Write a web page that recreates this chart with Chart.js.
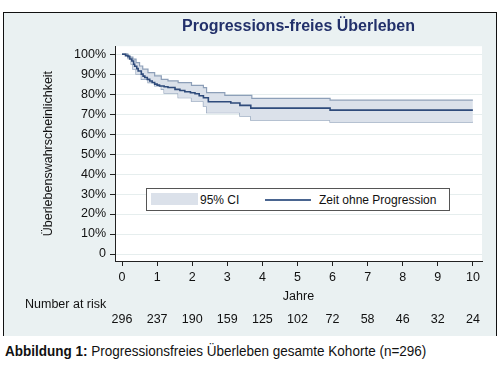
<!DOCTYPE html>
<html>
<head>
<meta charset="utf-8">
<script src="https://cdn.jsdelivr.net/npm/chart.js@4.4.1/dist/chart.umd.min.js"></script>
<style>
    html, body { margin: 0; padding: 0; background: #fff; }
    body { width: 500px; height: 371px; position: relative; overflow: hidden; font-family: "Liberation Sans", Arial, sans-serif; }
    #frame { position: absolute; left: 3px; top: 12px; width: 492px; height: 323px; background: #eaf1f2; border: 1px solid #111; border-bottom: none; }
    #chart { position: absolute; left: 0; top: 0; }
    #legend { position: absolute; left: 142px; top: 175px; width: 304px; height: 23px; box-sizing: border-box; background: #fff; border: 1px solid #555; font-size: 12px; color: #111; }
    #legend .sw { position: absolute; left: 4px; top: 4px; width: 47px; height: 12px; background: #dbe1ea; }
    #legend .t1 { position: absolute; left: 53px; top: 4px; }
    #legend .ln { position: absolute; left: 118px; top: 10px; width: 46px; height: 2px; background: #4a6590; }
    #legend .t2 { position: absolute; left: 172px; top: 4px; }
    #caption { position: absolute; left: 5px; top: 342px; font-size: 15px; color: #111; white-space: nowrap; transform: scaleX(0.9); transform-origin: left center; }
</style>
</head>
<body>
<div id="frame">
    <canvas id="chart" width="492" height="322"></canvas>
    <div id="legend">
        <div class="sw"></div><span class="t1">95% CI</span>
        <div class="ln"></div><span class="t2">Zeit ohne Progression</span>
    </div>
</div>
<div id="caption"><b>Abbildung 1:</b> Progressionsfreies Überleben gesamte Kohorte (n=296)</div>
<script>
// Kaplan-Meier Schätzer (Jahre, %)
const survYears = [0, 0.10, 0.17, 0.22, 0.28, 0.33, 0.36, 0.42, 0.46, 0.55, 0.60, 0.65, 0.72, 0.79, 0.86, 0.93, 1.00, 1.07, 1.20, 1.31, 1.51, 1.65, 1.79, 1.95, 2.08, 2.20, 2.32, 2.46, 3.10, 3.36, 3.67, 5.93, 10];
const survPct   = [100, 99.3, 98.8, 97.6, 96.6, 95.0, 94.0, 92.8, 91.6, 90.0, 89.0, 88.3, 87.4, 86.6, 85.8, 85.0, 84.5, 84.1, 83.7, 83.3, 82.4, 81.8, 81.2, 80.7, 80.2, 79.2, 78.2, 76.2, 75.6, 74.4, 73.0, 72.0, 72.0];

// 95% Konfidenzintervall
const upperYears = [0, 0.15, 0.22, 0.31, 0.40, 0.50, 0.59, 0.74, 0.93, 1.12, 1.31, 1.60, 1.98, 2.32, 2.41, 2.93, 3.70, 5.93, 10];
const upperPct   = [100, 99.3, 98.5, 97.5, 95.8, 94.1, 92.5, 90.8, 89.1, 87.4, 86.6, 85.8, 84.4, 83.3, 80.8, 79.4, 77.9, 77.0, 77.0];
const lowerYears = [0, 0.17, 0.26, 0.31, 0.40, 0.55, 0.74, 0.93, 1.12, 1.20, 1.60, 1.98, 2.32, 2.41, 3.36, 3.67, 5.93, 10];
const lowerPct   = [100, 97.8, 95.0, 92.5, 90.0, 87.4, 85.8, 84.1, 82.4, 80.5, 78.2, 76.5, 74.0, 70.7, 69.0, 67.0, 66.0, 66.0];

// Achsen und Number at risk
const yTickValues = [0, 10, 20, 30, 40, 50, 60, 70, 80, 90, 100];
const yTickLabels = ['0', '10%', '20%', '30%', '40%', '50%', '60%', '70%', '80%', '90%', '100%'];
const riskYears = [0, 1, 2, 3, 4, 5, 6, 7, 8, 9, 10];
const atRisk = [296, 237, 190, 159, 125, 102, 72, 58, 46, 32, 24];

const FONT = '"Liberation Sans", Arial, sans-serif';
const toPoints = (xs, ys) => xs.map((x, i) => ({ x, y: ys[i] }));

// weisser Plotbereich
const plotBackground = {
    id: 'plotBackground',
    beforeDraw(chart) {
        const { ctx, chartArea: a } = chart;
        ctx.save();
        ctx.fillStyle = '#fff';
        ctx.fillRect(a.left, a.top, a.right - a.left, a.bottom - a.top);
        ctx.restore();
    }
};

// Number at risk unter der x-Achse
const riskTable = {
    id: 'riskTable',
    afterDraw(chart) {
        const { ctx } = chart;
        const xScale = chart.scales.x;
        ctx.save();
        ctx.font = `12.5px ${FONT}`;
        ctx.fillStyle = '#111';
        ctx.textBaseline = 'middle';
        ctx.textAlign = 'left';
        ctx.fillText('Number at risk', 21, 292);
        ctx.textAlign = 'center';
        riskYears.forEach((t, i) => {
            ctx.fillText(String(atRisk[i]), xScale.getPixelForValue(t), 307);
        });
        ctx.restore();
    }
};

new Chart(document.getElementById('chart'), {
    type: 'line',
    data: {
        // Reihenfolge: Index 0 wird zuletzt (oben) gezeichnet
        datasets: [
            {
                label: 'Zeit ohne Progression',
                data: toPoints(survYears, survPct),
                stepped: true,
                borderColor: '#2f4b7b',
                borderWidth: 1.6,
                fill: false,
                pointRadius: 0
            },
            {
                label: '95% CI oben',
                data: toPoints(upperYears, upperPct),
                stepped: true,
                borderColor: '#8d9fb8',
                borderWidth: 1.2,
                backgroundColor: '#dbe1ea',
                fill: '+1',
                pointRadius: 0
            },
            {
                label: '95% CI unten',
                data: toPoints(lowerYears, lowerPct),
                stepped: true,
                borderColor: '#8d9fb8',
                borderWidth: 1.2,
                fill: false,
                pointRadius: 0
            }
        ]
    },
    options: {
        responsive: false,
        animation: false,
        layout: { padding: { left: 0, right: 14, top: 0, bottom: 30 } },
        plugins: {
            legend: { display: false },
            tooltip: { enabled: false },
            title: {
                display: true,
                text: 'Progressions-freies Überleben',
                fullSize: false,
                color: '#22306a',
                font: { family: FONT, size: 16, weight: 'bold' },
                padding: { top: 4, bottom: 10 }
            }
        },
        scales: {
            x: {
                type: 'linear',
                min: -0.2,
                max: 10.26,
                afterBuildTicks: (scale) => { scale.ticks = riskYears.map(v => ({ value: v })); },
                afterFit: (scale) => { scale.height = 44; },
                ticks: { color: '#111', padding: 4, font: { family: FONT, size: 12.5 }, maxRotation: 0 },
                grid: { drawOnChartArea: false, drawTicks: true, tickLength: 5, tickColor: '#222' },
                border: { display: true, color: '#222', width: 1 },
                title: { display: true, text: 'Jahre', color: '#111', font: { family: FONT, size: 12.5 }, padding: { top: 5, bottom: 1 } }
            },
            y: {
                min: -3.5,
                max: 104,
                afterBuildTicks: (scale) => { scale.ticks = yTickValues.map(v => ({ value: v })); },
                afterFit: (scale) => { scale.width = 111; },
                ticks: {
                    color: '#111',
                    padding: 4,
                    font: { family: FONT, size: 12.5 },
                    callback: (value) => yTickLabels[yTickValues.indexOf(value)]
                },
                grid: { color: '#e6eeee', lineWidth: 1, tickLength: 5, tickColor: '#222' },
                border: { display: true, color: '#222', width: 1 },
                title: { display: true, text: 'Überlebenswahrscheinlichkeit', color: '#111', font: { family: FONT, size: 12.5 }, padding: { top: 37, bottom: 0 } }
            }
        }
    },
    plugins: [plotBackground, riskTable]
});
</script>
</body>
</html>
